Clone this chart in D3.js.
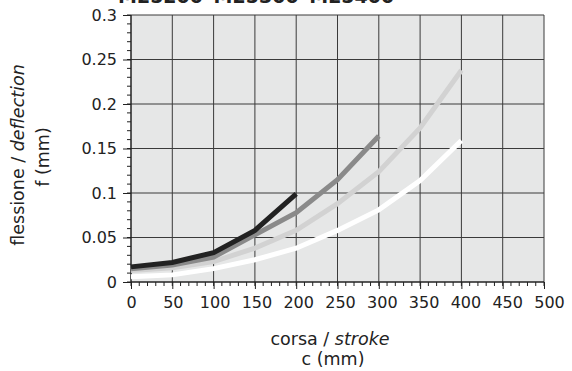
<!DOCTYPE html>
<html>
<head>
<meta charset="utf-8">
<script src="https://cdn.jsdelivr.net/npm/d3@7"></script>
<style>
  body { margin: 0; background: #fff; }
  text { font-family: "DejaVu Sans", Verdana, sans-serif; fill: #222; }
</style>
</head>
<body>
<div id="chart"></div>
<script>
// stroke positions (mm)
const strokes = [0, 50, 100, 150, 200, 250, 300, 350, 400];

// deflection values (mm) per curve
const m25200 = [0.017, 0.022, 0.033, 0.058, 0.099];
const m25300 = [0.015, 0.019, 0.028, 0.053, 0.078, 0.115, 0.164];
const m25400 = [0.013, 0.016, 0.023, 0.038, 0.058, 0.088, 0.124, 0.173, 0.238];
const m25xxx = [0.006, 0.008, 0.015, 0.025, 0.038, 0.058, 0.081, 0.114, 0.159];

const seriesColors = ['#222222', '#8a8a8a', '#d2d2d2', '#ffffff'];
const xTicks = [0, 50, 100, 150, 200, 250, 300, 350, 400, 450, 500];
const yTicks = [0, 0.05, 0.1, 0.15, 0.2, 0.25, 0.3];

const width = 572, height = 371;
const margin = { top: 15, right: 28, bottom: 89, left: 131 };
const innerWidth = width - margin.left - margin.right;
const innerHeight = height - margin.top - margin.bottom;

const svg = d3.select('#chart').append('svg')
  .attr('width', width)
  .attr('height', height);

// title, cut by the top edge as in the source
svg.append('text')
  .attr('x', 118)
  .attr('y', 3)
  .style('font-size', '19px')
  .style('font-weight', 'bold')
  .style('word-spacing', '4px')
  .text('M25200 M25300 M25400');

const g = svg.append('g')
  .attr('transform', `translate(${margin.left},${margin.top})`);

const xScale = d3.scaleLinear().domain([0, 500]).range([0, innerWidth]);
const yScale = d3.scaleLinear().domain([0, 0.3]).range([innerHeight, 0]);

g.append('rect')
  .attr('width', innerWidth)
  .attr('height', innerHeight)
  .attr('fill', '#e6e7e7');

// grid
g.selectAll('.vgrid').data(xTicks.slice(1)).enter().append('line')
  .attr('x1', d => xScale(d)).attr('x2', d => xScale(d))
  .attr('y1', 0).attr('y2', innerHeight)
  .attr('stroke', '#3a3a3a').attr('stroke-width', 1);

g.selectAll('.hgrid').data(yTicks.slice(1)).enter().append('line')
  .attr('x1', 0).attr('x2', innerWidth)
  .attr('y1', d => yScale(d)).attr('y2', d => yScale(d))
  .attr('stroke', '#3a3a3a').attr('stroke-width', 1);

// minor ticks
const xMinor = d3.range(0, 501, 10);
const yMinor = d3.range(0, 31).map(d => d / 100);

g.selectAll('.xminor').data(xMinor).enter().append('line')
  .attr('x1', d => xScale(d)).attr('x2', d => xScale(d))
  .attr('y1', innerHeight).attr('y2', innerHeight + 4)
  .attr('stroke', '#222');

g.selectAll('.yminor').data(yMinor).enter().append('line')
  .attr('x1', -4).attr('x2', 0)
  .attr('y1', d => yScale(d)).attr('y2', d => yScale(d))
  .attr('stroke', '#222');

const xAxis = d3.axisBottom(xScale)
  .tickValues(xTicks)
  .tickSize(7)
  .tickPadding(8)
  .tickFormat(d3.format('d'));

const yAxis = d3.axisLeft(yScale)
  .tickValues(yTicks)
  .tickSize(8)
  .tickPadding(6)
  .tickFormat(d => d === 0 ? '0' : String(d));

const xAxisG = g.append('g')
  .attr('transform', `translate(0,${innerHeight})`)
  .call(xAxis);
const yAxisG = g.append('g').call(yAxis);

[xAxisG, yAxisG].forEach(a => {
  a.select('.domain').attr('stroke', '#222').attr('stroke-width', 1.5);
  a.selectAll('.tick line').attr('stroke', '#222');
  a.selectAll('.tick text')
    .style('font-size', '16px')
    .style('font-family', '"DejaVu Sans", Verdana, sans-serif')
    .attr('fill', '#222');
});
// labels sit a touch wider apart than the ticks
xAxisG.selectAll('.tick text').attr('dx', d => d / 100);
xAxisG.select('.domain').attr('d', `M0,0H${innerWidth}`);
yAxisG.select('.domain').attr('d', `M0,${innerHeight}V0`);

// series, light ones first so the dark curves sit on top
const line = d3.line()
  .x((d, i) => xScale(strokes[i]))
  .y(d => yScale(d));

[m25xxx, m25400, m25300, m25200].forEach((vals, k) => {
  g.append('path')
    .attr('d', line(vals))
    .attr('fill', 'none')
    .attr('stroke', seriesColors[3 - k])
    .attr('stroke-width', 5)
    .attr('stroke-linejoin', 'miter');
});

// axis titles
const xt = svg.append('text')
  .attr('x', 330)
  .attr('y', 345)
  .attr('text-anchor', 'middle')
  .style('font-size', '17.5px');
xt.append('tspan').text('corsa / ');
xt.append('tspan').style('font-style', 'italic').text('stroke');
svg.append('text')
  .attr('x', 333)
  .attr('y', 365)
  .attr('text-anchor', 'middle')
  .style('font-size', '17.5px')
  .text('c (mm)');

const yt = svg.append('text')
  .attr('transform', 'translate(24,155) rotate(-90)')
  .attr('text-anchor', 'middle')
  .style('font-size', '17.5px');
yt.append('tspan').text('flessione / ');
yt.append('tspan').style('font-style', 'italic').text('deflection');
svg.append('text')
  .attr('transform', 'translate(49,157) rotate(-90)')
  .attr('text-anchor', 'middle')
  .style('font-size', '17.5px')
  .text('f (mm)');
</script>
</body>
</html>
